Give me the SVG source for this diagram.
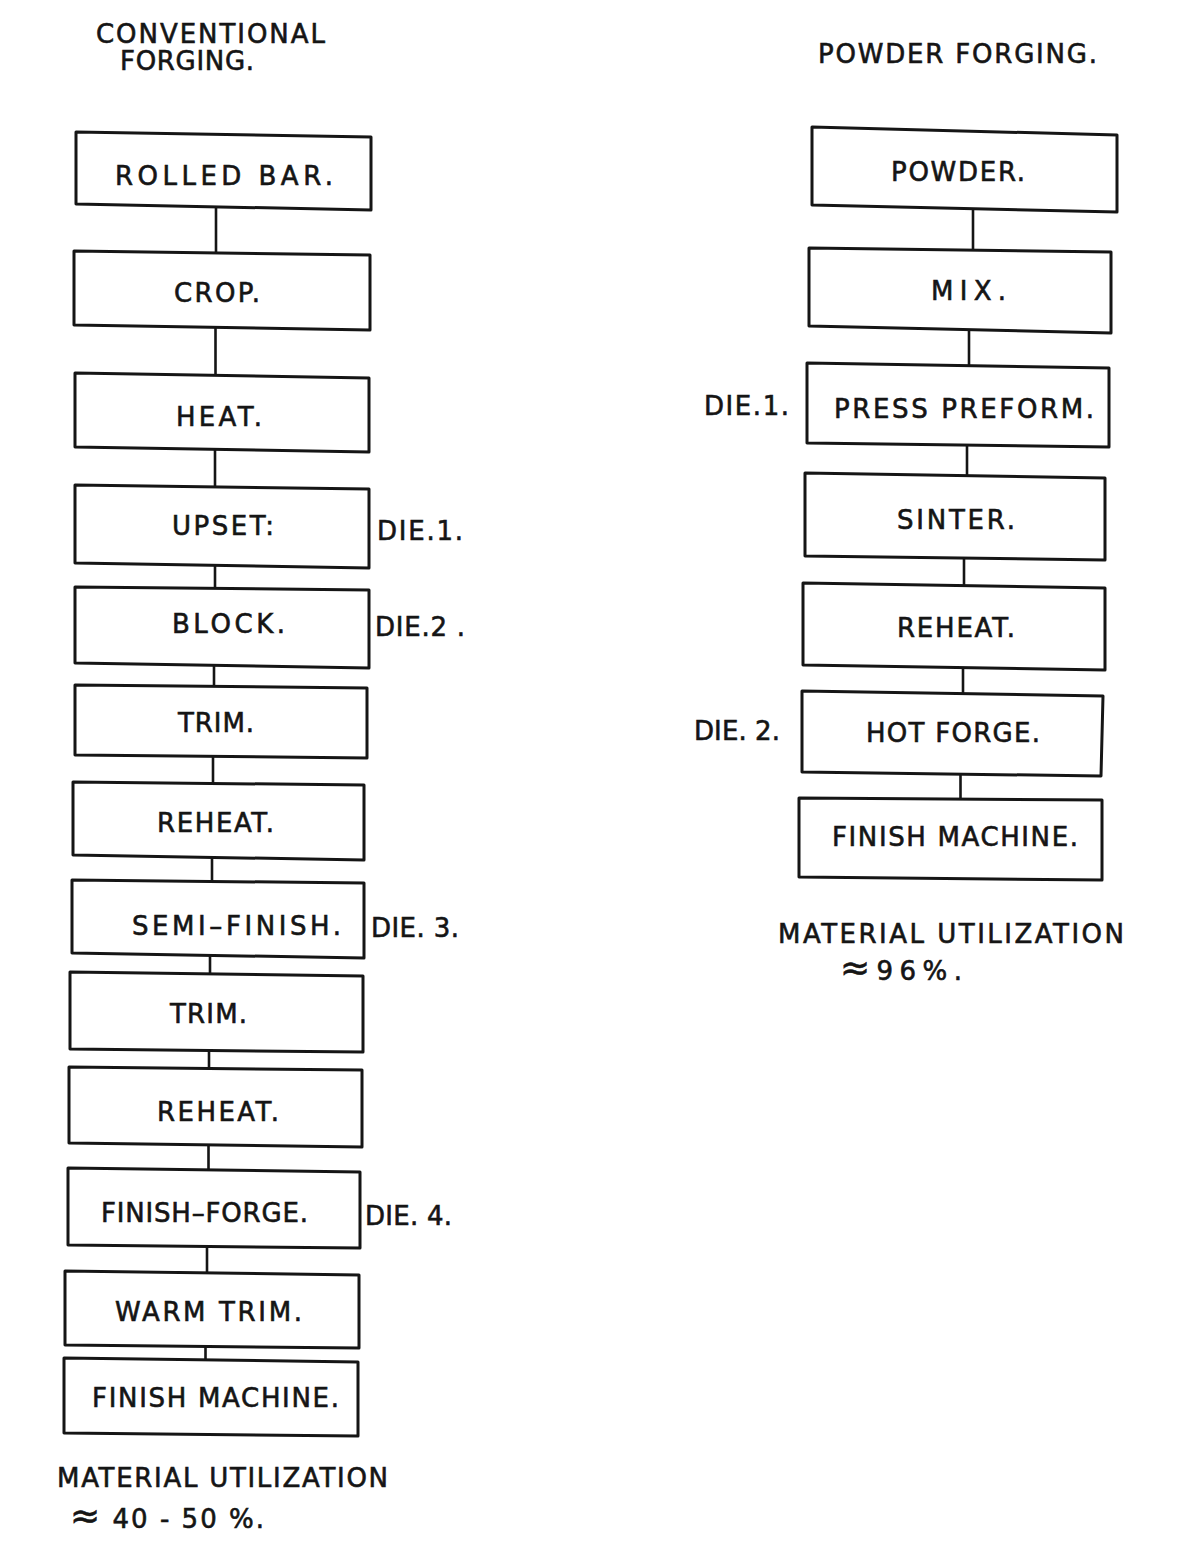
<svg xmlns="http://www.w3.org/2000/svg" width="1198" height="1541" viewBox="0 0 1198 1541">
<style>
.box{fill:none;stroke:#151515;stroke-width:3;stroke-linejoin:round}
.lbl{font-family:"DejaVu Sans","Liberation Sans",sans-serif;font-size:26px;fill:#151515;stroke:#151515;stroke-width:0.6}
.big{font-size:36px}
.con{stroke:#151515;stroke-width:2.6;fill:none}
</style>
<rect width="1198" height="1541" fill="#ffffff"/>
<g id="connectors">
<line class="con" x1="216" y1="207" x2="216" y2="253"/>
<line class="con" x1="215.5" y1="328" x2="215.5" y2="375"/>
<line class="con" x1="215" y1="450" x2="215" y2="487"/>
<line class="con" x1="215" y1="566" x2="215" y2="589"/>
<line class="con" x1="214" y1="666" x2="214" y2="687"/>
<line class="con" x1="213" y1="757" x2="213" y2="784"/>
<line class="con" x1="212" y1="858" x2="212" y2="882"/>
<line class="con" x1="210" y1="956" x2="210" y2="974"/>
<line class="con" x1="209" y1="1051" x2="209" y2="1069"/>
<line class="con" x1="208.5" y1="1145" x2="208.5" y2="1170"/>
<line class="con" x1="207" y1="1247" x2="207" y2="1273"/>
<line class="con" x1="205.5" y1="1347" x2="205.5" y2="1360"/>
<line class="con" x1="973" y1="209" x2="973" y2="251"/>
<line class="con" x1="969" y1="330" x2="969" y2="365"/>
<line class="con" x1="967" y1="445" x2="967" y2="476"/>
<line class="con" x1="964" y1="558" x2="964" y2="586"/>
<line class="con" x1="963" y1="668" x2="963" y2="694"/>
<line class="con" x1="960.5" y1="774" x2="960.5" y2="799"/>
</g>
<g id="titles">
<text class="lbl" x="96" y="43" textLength="229" lengthAdjust="spacing">CONVENTIONAL</text>
<text class="lbl" x="120" y="70" textLength="134" lengthAdjust="spacing">FORGING.</text>
<text class="lbl" x="818" y="63" textLength="279" lengthAdjust="spacing">POWDER  FORGING.</text>
</g>
<g id="c-rolled-bar"><polygon class="box" points="76,132 371,137 371,210 76,204"/><text class="lbl" x="115" y="185" textLength="218" lengthAdjust="spacing">ROLLED BAR.</text></g>
<g id="c-crop"><polygon class="box" points="74,251 370,255 370,330 74,325"/><text class="lbl" x="174" y="302" textLength="86" lengthAdjust="spacing">CROP.</text></g>
<g id="c-heat"><polygon class="box" points="75,373 369,378 369,452 75,447"/><text class="lbl" x="176" y="426" textLength="86" lengthAdjust="spacing">HEAT.</text></g>
<g id="c-upset"><polygon class="box" points="75,485 369,489 369,568 75,563"/><text class="lbl" x="172" y="535" textLength="102" lengthAdjust="spacing">UPSET:</text><text class="lbl" x="377" y="540" textLength="86" lengthAdjust="spacing">DIE.1.</text></g>
<g id="c-block"><polygon class="box" points="75,587 369,590 369,668 75,663"/><text class="lbl" x="172" y="633" textLength="113" lengthAdjust="spacing">BLOCK.</text><text class="lbl" x="375" y="636" textLength="90" lengthAdjust="spacing">DIE.2 .</text></g>
<g id="c-trim1"><polygon class="box" points="75,685 367,688 367,758 75,755"/><text class="lbl" x="178" y="732" textLength="76" lengthAdjust="spacing">TRIM.</text></g>
<g id="c-reheat1"><polygon class="box" points="73,782 364,785 364,860 73,855"/><text class="lbl" x="157" y="832" textLength="117" lengthAdjust="spacing">REHEAT.</text></g>
<g id="c-semi-finish"><polygon class="box" points="72,880 364,883 364,958 72,953"/><text class="lbl" x="132" y="935" textLength="209" lengthAdjust="spacing">SEMI–FINISH.</text><text class="lbl" x="371" y="937" textLength="88" lengthAdjust="spacing">DIE. 3.</text></g>
<g id="c-trim2"><polygon class="box" points="70,972 363,976 363,1052 70,1049"/><text class="lbl" x="170" y="1023" textLength="77" lengthAdjust="spacing">TRIM.</text></g>
<g id="c-reheat2"><polygon class="box" points="69,1067 362,1070 362,1147 69,1143"/><text class="lbl" x="157" y="1121" textLength="122" lengthAdjust="spacing">REHEAT.</text></g>
<g id="c-finish-forge"><polygon class="box" points="68,1168 360,1172 360,1248 68,1245"/><text class="lbl" x="101" y="1222" textLength="207" lengthAdjust="spacing">FINISH–FORGE.</text><text class="lbl" x="365" y="1225" textLength="87" lengthAdjust="spacing">DIE. 4.</text></g>
<g id="c-warm-trim"><polygon class="box" points="65,1271 359,1275 359,1348 65,1345"/><text class="lbl" x="115" y="1321" textLength="187" lengthAdjust="spacing">WARM TRIM.</text></g>
<g id="c-finish-machine"><polygon class="box" points="64,1358 358,1362 358,1436 64,1433"/><text class="lbl" x="92" y="1407" textLength="247" lengthAdjust="spacing">FINISH  MACHINE.</text></g>
<g id="c-utilization"><text class="lbl" x="57" y="1487" textLength="331" lengthAdjust="spacing">MATERIAL UTILIZATION</text><text class="lbl" x="70" y="1528" textLength="194" lengthAdjust="spacing"><tspan class="big">≈</tspan> 40 - 50 %.</text></g>
<g id="p-powder"><polygon class="box" points="812,127 1117,135 1117,212 812,205"/><text class="lbl" x="891" y="181" textLength="134" lengthAdjust="spacing">POWDER.</text></g>
<g id="p-mix"><polygon class="box" points="809,248 1111,252 1111,333 809,326"/><text class="lbl" x="931" y="300" textLength="75" lengthAdjust="spacing">MIX.</text></g>
<g id="p-press-preform"><polygon class="box" points="807,363 1109,368 1109,447 807,443"/><text class="lbl" x="834" y="418" textLength="260" lengthAdjust="spacing">PRESS  PREFORM.</text><text class="lbl" x="704" y="415" textLength="85" lengthAdjust="spacing">DIE.1.</text></g>
<g id="p-sinter"><polygon class="box" points="805,473 1105,478 1105,560 805,556"/><text class="lbl" x="897" y="529" textLength="118" lengthAdjust="spacing">SINTER.</text></g>
<g id="p-reheat"><polygon class="box" points="803,583 1105,588 1105,670 803,665"/><text class="lbl" x="897" y="637" textLength="118" lengthAdjust="spacing">REHEAT.</text></g>
<g id="p-hot-forge"><polygon class="box" points="802,691 1103,696 1101,776 802,772"/><text class="lbl" x="866" y="742" textLength="174" lengthAdjust="spacing">HOT  FORGE.</text><text class="lbl" x="694" y="740" textLength="86" lengthAdjust="spacing">DIE. 2.</text></g>
<g id="p-finish-machine"><polygon class="box" points="799,798 1102,800 1102,880 799,877"/><text class="lbl" x="832" y="846" textLength="246" lengthAdjust="spacing">FINISH  MACHINE.</text></g>
<g id="p-utilization"><text class="lbl" x="778" y="943" textLength="346" lengthAdjust="spacing">MATERIAL  UTILIZATION</text><text class="lbl" x="840" y="980" textLength="122" lengthAdjust="spacing"><tspan class="big">≈</tspan>96%.</text></g>
</svg>
